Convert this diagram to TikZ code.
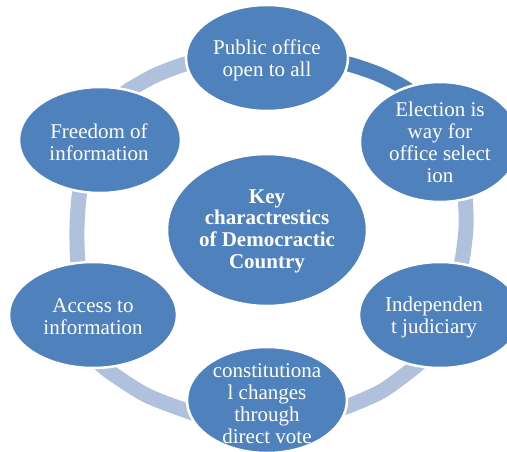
\documentclass[tikz,border=0pt]{standalone}
\usepackage{fontspec}
\setmainfont{Liberation Serif}
\usetikzlibrary{shapes.geometric}
\definecolor{accent}{HTML}{4F81BD}
\definecolor{ringlight}{HTML}{B0C1DD}
\begin{document}
\begin{tikzpicture}[x=1pt,y=-1pt,
  bub/.style={ellipse, fill=accent, draw=white, line width=2.5pt, inner sep=0pt},
  txt/.style={text=white, align=center, font=\fontsize{21}{22}\selectfont, inner sep=0pt},
  band/.style={line width=15pt, ringlight, line cap=butt}]
\useasboundingbox (0,0) rectangle (507,451);
\clip (0,0) rectangle (507,451);
% ring segments
\draw[band, accent] plot[smooth] coordinates {(330,60) (352,65) (378,74) (400,85) (420,98)};
\draw[band] plot[smooth] coordinates {(204,60) (182,65) (156,75) (134,87) (114,100)};
\draw[band] plot[smooth] coordinates {(463,185) (465.5,202) (466,228) (463,255) (459,275)};
\draw[band] plot[smooth] coordinates {(83,178) (79,197) (77,227) (77.5,257) (80,278)};
\draw[band] plot[smooth] coordinates {(425,358) (411,370) (382,391) (351,405) (335,410)};
\draw[band] plot[smooth] coordinates {(200,415) (187,411) (146,395) (110,372) (98,362)};
% nodes
\node[bub, minimum width=162pt, minimum height=106pt] (top) at (267,58) {};
\node[bub, minimum width=160pt, minimum height=120pt] (elec) at (440,142) {};
\node[bub, minimum width=162pt, minimum height=106pt] (indep) at (440,315) {};
\node[bub, minimum width=160pt, minimum height=106pt] (bot) at (267,400) {};
\node[bub, minimum width=168pt, minimum height=106pt] (acc) at (93,315) {};
\node[bub, minimum width=162pt, minimum height=106pt] (free) at (100,140) {};
\node[bub, minimum width=200pt, minimum height=152pt] (cen) at (267,230) {};
% texts
\node[txt] (topt) at (267,60) {Public office\\open to all};
\node[txt] (elect) at (440,142) {Election is\\way for\\office select\\ion};
\node[txt] (indept) at (434,317) {Independen\\t judiciary};
\node[txt] (bott) at (267,404) {constitutiona\\l changes\\through\\direct vote};
\node[txt] (acct) at (93,317) {Access to\\information};
\node[txt] (freet) at (99,142) {Freedom of\\information};
\node[txt, font=\fontsize{21}{21.7}\selectfont\bfseries] (cent) at (267,231) {Key\\charactrestics\\of Democractic\\Country};
\end{tikzpicture}
\end{document}
